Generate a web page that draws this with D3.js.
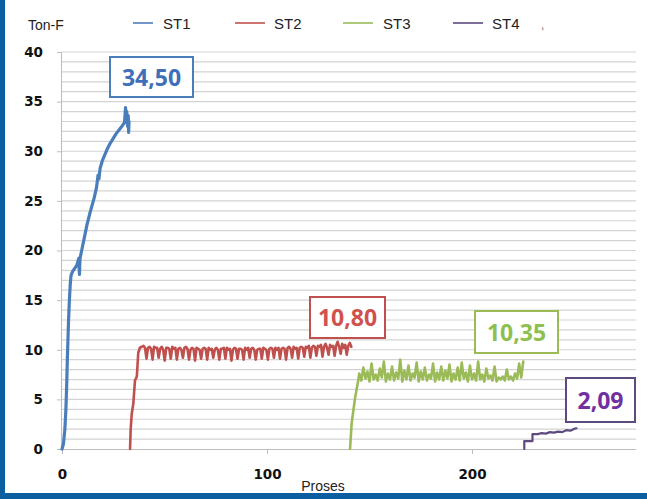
<!DOCTYPE html>
<html><head><meta charset="utf-8">
<script src="https://cdn.jsdelivr.net/npm/d3@7"></script>
<style>body{margin:0;background:#fff;}svg{display:block;}</style>
</head><body>
<svg id="c" width="647" height="499"></svg>
<script>
// ---- data ----
const seriesNames = ["ST1","ST2","ST3","ST4"];
const yTicks = [0,5,10,15,20,25,30,35,40];
const xTicks = [0,100,200];
const peakLabels = ["34,50","10,80","10,35","2,09"];

const st1 = [[0,0],[0.7,0.5],[1.4,2],[1.9,4],[2.3,6.5],[2.6,9],[2.9,11],[3.2,13],[3.6,15],[4,16.5],[4.4,17.5],[5.2,17.9],[6.2,18.2],[7.2,18.5],[8.2,19.2],[8.5,17.6],[8.8,19.2],[9.9,20.3],[11,21.4],[12.2,22.6],[13.4,23.6],[14.6,24.5],[15.7,25.3],[16.8,26.3],[17.6,27.6],[18,27.2],[18.6,28.3],[19.6,29],[20.8,29.6],[22,30.2],[23.5,30.8],[25,31.3],[26.5,31.8],[28,32.2],[29.5,32.6],[30.5,32.9],[31,34.4],[31.3,33.2],[31.6,34],[32,32.5],[32.3,33.6],[32.5,31.9],[32.7,33]];

const st2Rise = [[33.2,0],[33.5,2],[34,3.5],[34.8,4.6],[35.6,6.9],[36.5,7.3],[37.2,9.7],[38,10.2]];
const st2Start = 39, st2Step = 0.74;
const st2Plateau = [
10.3,10.4,10.2,9.1, 10.2,10.3,10.1,9.0, 10.3,10.2,10.2,9.2, 10.1,10.3,10.0,8.9,
10.2,10.2,10.1,9.1, 10.3,10.1,10.2,9.0, 10.1,10.2,10.0,9.2, 10.2,10.3,10.1,9.0,
10.0,10.2,10.1,8.9, 10.2,10.1,10.0,9.1, 10.1,10.2,10.1,9.0, 10.2,10.0,10.1,9.2,
10.0,10.2,10.0,9.0, 10.1,10.1,10.2,9.1, 10.2,10.0,10.1,8.9, 10.0,10.2,10.1,9.1,
10.1,10.1,10.0,9.0, 10.2,10.0,10.2,9.2, 10.1,10.2,10.0,9.0, 10.0,10.1,10.1,9.1,
10.2,10.1,10.0,9.0, 10.1,10.2,10.1,9.2, 10.2,10.0,10.2,9.1, 10.1,10.2,10.1,9.0,
10.2,10.3,10.1,9.2, 10.3,10.1,10.2,9.1, 10.2,10.3,10.2,9.3, 10.3,10.2,10.4,9.2,
10.2,10.4,10.3,9.4, 10.4,10.3,10.5,9.3, 10.3,10.6,10.2,9.5, 10.5,10.3,10.4,9.4,
10.4,10.8,10.3,9.6, 10.6,10.2,10.5,9.5, 10.4,10.7,10.3
];

const st3Rise = [[140.5,0],[141.3,2.6],[143,5.2],[144.5,6.9]];
const st3Start = 145, st3Step = 1;
const st3Plateau = [7.6,6.9,8.2,7.1,7.8,6.8,8.6,7.0,7.5,6.9,8.1,7.2,8.8,6.8,7.6,7.0,8.3,6.9,7.7,7.1,9.0,6.8,7.9,7.0,8.4,6.9,7.6,7.2,8.7,6.8,7.8,7.0,8.2,6.9,7.5,7.1,8.6,6.8,7.7,7.0,8.3,6.9,7.9,7.1,8.5,6.8,7.6,7.0,8.2,6.9,8.7,7.1,7.7,6.8,8.4,7.0,7.6,6.9,8.8,7.0,7.5,6.8,8.1,7.1,7.4,6.9,8.3,6.8,7.2,7.0,7.3,6.9,8.0,7.0,7.3,6.9,7.6,7.1,8.6,7.2,8.8];

const st4 = [[225.5,0],[225.5,0.8],[229.5,0.8],[229.5,1.5],[232,1.5],[234,1.6],[236,1.55],[238,1.7],[240,1.65],[242,1.75],[244,1.7],[246,1.9],[248,1.85],[250,2.05],[251,2.09]];

// ---- build ----
const st2 = st2Rise.concat(st2Plateau.map((v,i)=>[st2Start+i*st2Step, v]));
const st3 = st3Rise.concat(st3Plateau.map((v,i)=>[st3Start+i*st3Step, v]));
const allSeries = [st1, st2, st3, st4];
const colors = ["#4a7ebb","#c0504d","#9bbb59","#5f4a80"];
const widths = [3.2,2.6,2.6,2.2];
const labelText = ["#3f6fb8","#d0524e","#8dc04f","#7030a0"];
const labelBorder = ["#4a7ebb","#c0504d","#9bbb59","#5f4a80"];

const svg = d3.select("#c");
svg.append("rect").attr("width",647).attr("height",499).attr("fill","#fff");

const x = d3.scaleLinear().domain([0,280]).range([62,636]);
const y = d3.scaleLinear().domain([0,40]).range([449,52]);

// gridlines every 1 unit
const gridVals = d3.range(1,41);
svg.append("g").selectAll("line").data(gridVals).join("line")
  .attr("x1",x(0)).attr("x2",x(280))
  .attr("y1",d=>y(d)).attr("y2",d=>y(d))
  .attr("stroke","#d3d3d3").attr("stroke-width",1.2);

// y axis
const gy = svg.append("g").attr("transform",`translate(${x(0)},0)`)
  .call(d3.axisLeft(y).tickValues(yTicks).tickSize(5).tickPadding(14).tickFormat(d3.format("d")));
gy.select(".domain").attr("stroke","#bdbdbd").attr("d",`M-0.5,${y(40)}V${y(0)}`);
gy.selectAll(".tick line").attr("stroke","#bdbdbd");
gy.selectAll(".tick text").attr("font-family","DejaVu Sans").attr("font-weight","bold")
  .attr("font-size",13.5).attr("fill","#111");

// x axis
const gx = svg.append("g").attr("transform",`translate(0,${y(0)})`)
  .call(d3.axisBottom(x).tickValues(xTicks).tickSize(5).tickPadding(15).tickFormat(d3.format("d")));
gx.select(".domain").attr("stroke","#bdbdbd").attr("d",`M${x(0)-5},0.5H${x(280)}`);
gx.selectAll(".tick line").attr("stroke","#bdbdbd");
gx.selectAll(".tick text").attr("font-family","DejaVu Sans").attr("font-weight","bold")
  .attr("font-size",13.5).attr("fill","#111");

// lines
const line = d3.line().x(d=>x(d[0])).y(d=>y(d[1]));
svg.append("g").selectAll("path").data(allSeries).join("path")
  .attr("d",line).attr("fill","none")
  .attr("stroke",(d,i)=>colors[i]).attr("stroke-width",(d,i)=>widths[i])
  .attr("stroke-linejoin","round").attr("stroke-linecap","round");

// peak label boxes
const boxes = [[110,57,83,40],[310,297,75,41],[475,311,83,42],[566,378,69,44]];
boxes.forEach((b,i)=>{
  svg.append("rect").attr("x",b[0]).attr("y",b[1]).attr("width",b[2]).attr("height",b[3])
    .attr("fill","#fff").attr("stroke",labelBorder[i]).attr("stroke-width",2);
  svg.append("text").attr("x",b[0]+b[2]/2).attr("y",b[1]+b[3]/2+8.5)
    .attr("text-anchor","middle").attr("font-family","Open Sans").attr("font-weight","bold")
    .attr("font-size",23).attr("fill",labelText[i]).text(peakLabels[i]);
});

// axis titles
svg.append("text").attr("x",28).attr("y",30).attr("font-family","Liberation Sans")
  .attr("font-size",14).attr("fill","#222").text("Ton-F");
svg.append("text").attr("x",323).attr("y",491).attr("text-anchor","middle")
  .attr("font-family","Liberation Sans").attr("font-size",14).attr("fill","#222").text("Proses");

// legend
const legLine = [[133,153],[235,265],[343,373],[453,483]];
const legText = [163,274,383,492];
seriesNames.forEach((n,i)=>{
  svg.append("line").attr("x1",legLine[i][0]).attr("x2",legLine[i][1]).attr("y1",23).attr("y2",23)
    .attr("stroke",colors[i]).attr("stroke-width",1.6);
  svg.append("text").attr("x",legText[i]).attr("y",29).attr("font-family","Liberation Sans")
    .attr("font-size",15).attr("fill","#222").text(n);
});
svg.append("text").attr("x",541).attr("y",29).attr("font-family","Liberation Sans")
  .attr("font-size",12).attr("fill","#777").text(",");

// frame
svg.append("rect").attr("x",0).attr("y",0).attr("width",5).attr("height",499).attr("fill","#0b5e9f");
svg.append("rect").attr("x",0).attr("y",493).attr("width",647).attr("height",6).attr("fill","#0b5e9f");
</script>
</body></html>
